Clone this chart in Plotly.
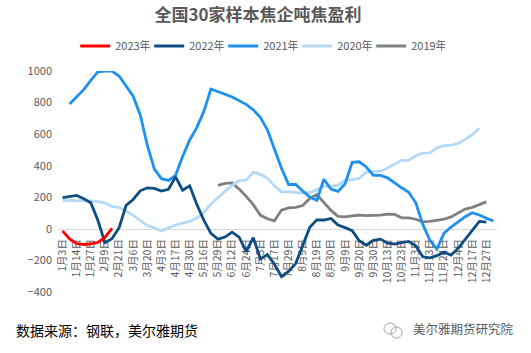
import plotly.graph_objects as go

dates = ["1月3日","1月7日","1月14日","1月21日","1月27日","2月3日","2月9日","2月16日","2月21日","2月28日",
         "3月6日","3月13日","3月20日","3月27日","4月3日","4月10日","4月17日","4月24日","4月30日","5月9日",
         "5月16日","5月22日","5月29日","6月5日","6月12日","6月18日","6月24日","6月30日","7月5日","7月11日",
         "7月17日","7月22日","7月29日","8月4日","8月9日","8月14日","8月19日","8月25日","8月30日","9月4日",
         "9月9日","9月15日","9月20日","9月25日","9月30日","10月8日","10月13日","10月18日","10月23日","10月28日",
         "11月3日","11月8日","11月13日","11月18日","11月24日","11月29日","12月4日","12月10日","12月17日","12月22日",
         "12月27日","12月31日"]
tick_labels = dates[::2]

y2023 = [-13, -64, -94, -99, -95, -86, -54, 3] + [None] * 54
y2022 = [198, 204, 212, 190, 166, 54, -88, -62, 6, 149, 186, 241, 260, 256, 239, 251, 329, 245, 273, 156,
         55, -29, -65, -52, -21, -53, -145, -56, -190, -163, -224, -303, -270, -220, -102, 10, 57, 56, 66, 24,
         8, -11, -75, -104, -73, -65, -90, -96, -87, -80, -107, -177, -184, -170, -148, -166, -123, -66, -7, 47,
         42, None]
y2021 = [None, 791, 836, 882, 940, 994, 999, 999, 968, 902, 840, 722, 531, 379, 318, 307, 339, 458, 563, 641,
         744, 886, 871, 853, 835, 812, 789, 754, 707, 628, 500, 383, 281, 281, 240, 202, 181, 314, 252, 237,
         286, 421, 425, 392, 339, 339, 323, 290, 260, 232, 165, 28, -72, -128, -27, 11, 42, 77, 102, 88,
         67, 50]
y2020 = [180, 180, 180, 180, 177, 173, 164, 143, 136, 111, 87, 53, 21, 7, -13, 5, 24, 37, 47, 69,
         103, 157, 200, 238, 275, 306, 308, 360, 345, 322, 273, 234, 234, 230, 226, 231, 247, 270, 270, 277,
         307, 312, 319, 360, 362, 365, 385, 410, 434, 434, 463, 480, 481, 513, 527, 531, 541, 567, 597, 638,
         None, None]
y2019 = [None] * 22 + [276, 288, 291, 252, 206, 153, 87, 64, 51, 119, 133, 136, 148, 193, 217, 170, 117, 79,
                       76, 82, 87, 84, 84, 87, 93, 92, 70, 70, 61, 44, 48, 53, 61, 76, 100, 125, 136, 153, 171] + [None]

series = [("2023年", y2023, "#FF0000"),
          ("2022年", y2022, "#0F4C81"),
          ("2021年", y2021, "#1E90F0"),
          ("2020年", y2020, "#B4D9F7"),
          ("2019年", y2019, "#808080")]

FONT = "Noto Sans CJK SC"
fig = go.Figure()
for name, ys, col in reversed(series):
    fig.add_trace(go.Scatter(x=dates, y=ys, name=name, mode="lines",
                             line=dict(color=col, width=2.8), connectgaps=False))

ymin, ymax = -400, 1000
L, R, T, B = 59, 34, 71, 61
W, H = 531 - L - R, 353 - T - B

def px(x):
    return (x - L) / W

def py(y):
    return (353 - B - y) / H

fig.update_layout(
    width=531, height=353,
    margin=dict(l=L, r=R, t=T, b=B),
    paper_bgcolor="white", plot_bgcolor="white",
    font=dict(family=FONT, color="#595959", size=11),
    showlegend=True,
    title=dict(text="<b>全国30家样本焦企吨焦盈利</b>", x=258/531, xref="container", xanchor="center",
               y=1-15/353, yref="container", yanchor="middle",
               font=dict(size=17, color="#595959", family=FONT)),
    legend=dict(orientation="h", xref="container", yref="container", x=0.49, xanchor="center",
                y=1-46/353, yanchor="middle", traceorder="reversed",
                font=dict(size=11, color="#595959"), itemwidth=30,
                entrywidth=29, entrywidthmode="pixels", tracegroupgap=0),
    xaxis=dict(type="category", categoryorder="array", categoryarray=dates,
               range=[-0.5, len(dates) - 0.5], tickmode="array", tickvals=tick_labels, ticktext=tick_labels,
               tickangle=-90, tickfont=dict(size=10.5, color="#595959"), showgrid=False,
               showline=True, linecolor="#D9D9D9", linewidth=1, ticks="", zeroline=False,
               ticklabelstandoff=5,
               anchor="free", position=(0 - ymin) / (ymax - ymin), automargin=False, layer="below traces"),
    yaxis=dict(range=[ymin, ymax], dtick=200, tick0=0, showgrid=False, zeroline=False, showline=False,
               tickfont=dict(size=11, color="#595959"), automargin=False, ticks="",
               ticklabelstandoff=6),
)

fig.add_annotation(text="数据来源：钢联，美尔雅期货", xref="paper", yref="paper",
                   x=px(14), y=py(330), xanchor="left", yanchor="middle", showarrow=False,
                   font=dict(size=14, color="#000000", family=FONT))
fig.add_annotation(text="美尔雅期货研究院", xref="paper", yref="paper",
                   x=px(411), y=py(328), xanchor="left", yanchor="middle", showarrow=False,
                   font=dict(size=12.5, color="#595959", family=FONT))
# small wechat-like icon
fig.add_shape(type="circle", xref="paper", yref="paper", x0=px(384), x1=px(396),
              y0=py(334), y1=py(323), line=dict(color="#A0A0A0", width=1))
fig.add_shape(type="circle", xref="paper", yref="paper", x0=px(391), x1=px(402),
              y0=py(338), y1=py(327), line=dict(color="#A0A0A0", width=1))

fig.write_html("out.html")
